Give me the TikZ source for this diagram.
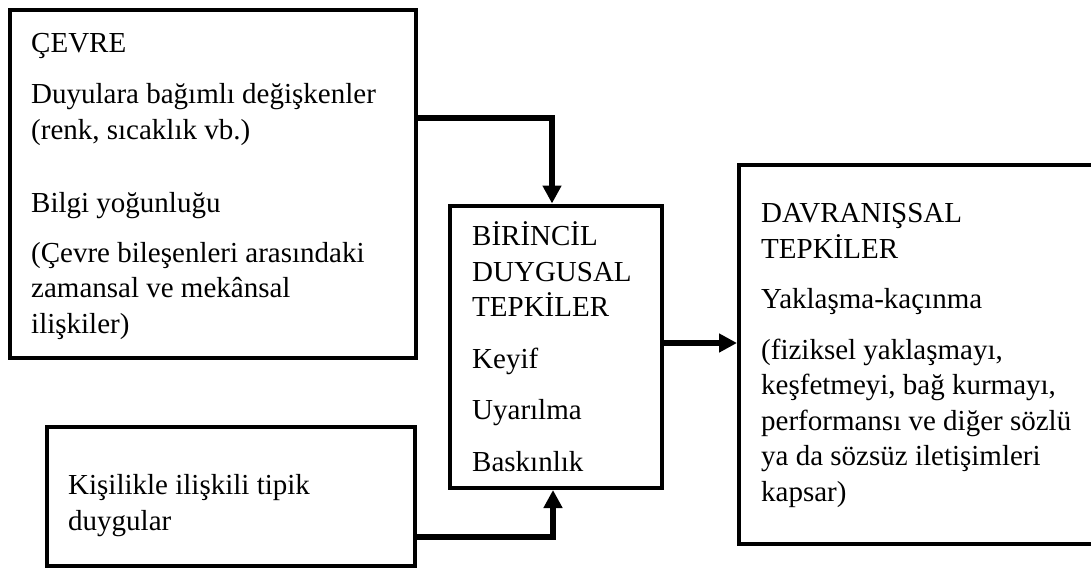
\documentclass[tikz,border=0pt]{standalone}
\usepackage{fontspec}
\setmainfont{Liberation Serif}
\usetikzlibrary{arrows.meta}
\begin{document}
\begin{tikzpicture}[x=1pt, y=-1pt,
  box/.style={draw, rectangle, line width=4pt, inner sep=0pt},
  % multi-line texts are placed by the baseline of their last line
  boxtext/.style={anchor=base west, align=left, inner sep=0pt,
    font=\fontsize{29}{35.5}\selectfont},
  conn/.style={line width=6.5pt, line join=miter,
    -{Triangle[length=18pt,width=18pt]}}]
  \useasboundingbox (0,0) rectangle (1091,570);
  \clip (0,0) rectangle (1091,570);

  % boxes
  \node[box, minimum width=406pt, minimum height=348.5pt] (env) at (212.5,183.75) {};
  \node[box, minimum width=212pt, minimum height=282.5pt] (prim) at (556,346.75) {};
  \node[box, minimum width=368.5pt, minimum height=139pt] (pers) at (230.75,496) {};
  \node[box, minimum width=360pt, minimum height=378.5pt] (beh) at (919,354.25) {};

  % box contents
  \node[boxtext] (envtext) at (31,333) {ÇEVRE\\[15.5pt]
    Duyulara bağımlı değişkenler\\
    (renk, sıcaklık vb.)\\[37.5pt]
    Bilgi yoğunluğu\\[14.5pt]
    (Çevre bileşenleri arasındaki\\
    zamansal ve mekânsal\\
    ilişkiler)};
  \node[boxtext] (primtext) at (472,471) {BİRİNCİL\\
    DUYGUSAL\\
    TEPKİLER\\[16pt]
    Keyif\\[16pt]
    Uyarılma\\[16pt]
    Baskınlık};
  \node[boxtext] (perstext) at (68,530) {Kişilikle ilişkili tipik\\
    duygular};
  \node[boxtext] (behtext) at (761,501) {DAVRANIŞSAL\\
    TEPKİLER\\[15pt]
    Yaklaşma-kaçınma\\[15pt]
    (fiziksel yaklaşmayı,\\
    keşfetmeyi, bağ kurmayı,\\
    performansı ve diğer sözlü\\
    ya da sözsüz iletişimleri\\
    kapsar)};

  % connectors
  \coordinate (j1) at (552,118);
  \coordinate (j2) at (553,537);
  \coordinate (j3) at (700,343);
  \draw[conn] (env.east |- j1) -- (j1) -- (prim.north -| j1);
  \draw[conn] (pers.east |- j2) -- (j2) -- (prim.south -| j2);
  \draw[conn] (prim.east |- j3) -- (beh.west |- j3);
\end{tikzpicture}
\end{document}
